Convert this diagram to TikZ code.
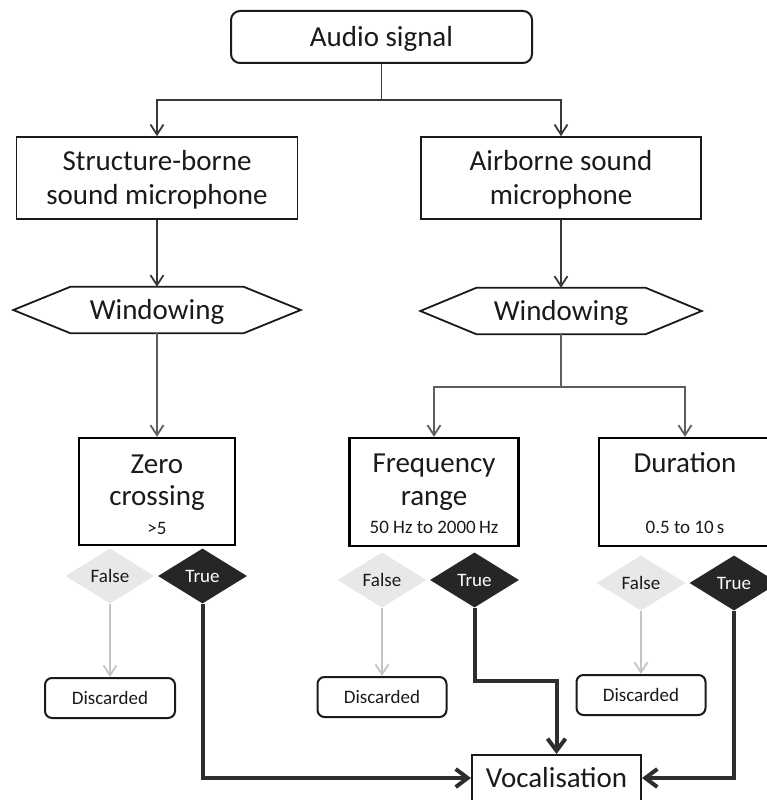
\documentclass[tikz,border=0pt]{standalone}
\usepackage{fontspec}
\setmainfont{Carlito}
\usetikzlibrary{arrows.meta,shapes.geometric}
\definecolor{ink}{HTML}{1A1A1A}
\definecolor{conA}{HTML}{383838}
\definecolor{conB}{HTML}{5E5E5E}
\definecolor{conF}{HTML}{C4C4C4}
\definecolor{conT}{HTML}{2E2E2E}
\definecolor{fillF}{HTML}{E8E8E8}
\definecolor{fillT}{HTML}{262626}
\begin{document}
\begin{tikzpicture}[x=1pt,y=-1pt,
  big/.style={font=\fontsize{29}{34}\selectfont},
  small/.style={font=\fontsize{19}{23}\selectfont},
  capb/.style={text height=18.6pt, text depth=0pt},
  caps/.style={text height=12.2pt, text depth=0pt},
  txt/.style={inner sep=0pt, anchor=base, text=ink},
  rbox/.style={draw=ink, line width=2pt, inner sep=0pt, text=ink},
  sbox/.style={draw=ink, line width=1.6pt, inner sep=0pt},
  cbox/.style={draw=black, line width=2.4pt, inner sep=0pt},
  hexnode/.style={inner sep=0pt, minimum height=46pt, text=ink},
  hexline/.style={draw=ink, line width=1.8pt, line join=miter},
  dia/.style={diamond, inner sep=0pt, minimum width=89pt, minimum height=55pt, small, caps},
  arr/.style={-{Straight Barb[length=10pt,width=13pt]}},
  tarr/.style={-{Straight Barb[length=12pt,width=18pt]}},
  conn1/.style={draw=conA, line width=1.8pt},
  conn2/.style={draw=conB, line width=1.8pt},
  connF/.style={draw=conF, line width=1.8pt},
  connT/.style={draw=conT, line width=4pt},
]
\useasboundingbox (0,0) rectangle (767,800);
\clip (0,0) rectangle (767,800);

% top
\node[rbox, rounded corners=9pt, big, capb, minimum width=301pt, minimum height=52pt] (audio) at (381.5,37) {Audio signal};

\node[sbox, minimum width=281pt, minimum height=82pt] (sb) at (157,178) {};
\node[txt, big] (sbt1) at (157,170) {Structure-borne};
\node[txt, big] (sbt2) at (157,204) {sound microphone};

\node[sbox, minimum width=280pt, minimum height=82pt] (ab) at (561,178) {};
\node[txt, big] (abt1) at (561,170) {Airborne sound};
\node[txt, big] (abt2) at (561,204) {microphone};

% windowing hexagons
\node[hexnode, big, capb, minimum width=287pt] (w1) at (157,310) {Windowing};
\draw[hexline] (w1.west) -- ([xshift=57pt]w1.north west) -- ([xshift=-57pt]w1.north east) -- (w1.east) -- ([xshift=-57pt]w1.south east) -- ([xshift=57pt]w1.south west) -- cycle;
\node[hexnode, big, capb, minimum width=281pt] (w2) at (561,311) {Windowing};
\draw[hexline] (w2.west) -- ([xshift=56pt]w2.north west) -- ([xshift=-56pt]w2.north east) -- (w2.east) -- ([xshift=-56pt]w2.south east) -- ([xshift=56pt]w2.south west) -- cycle;

% criteria boxes
\node[cbox, minimum width=156pt, minimum height=107pt] (zc) at (157,491.5) {};
\node[txt, big] (zct1) at (157,473) {Zero};
\node[txt, big] (zct2) at (157,505) {crossing};
\node[txt, small] (zct3) at (157,534) {>5};

\node[cbox, minimum width=169pt, minimum height=108pt] (fr) at (434,492) {};
\node[txt, big] (frt1) at (434,472) {Frequency};
\node[txt, big] (frt2) at (434,505) {range};
\node[txt, small] (frt3) at (434,533) {50 Hz to 2000\,Hz};

\node[cbox, minimum width=172pt, minimum height=108pt] (du) at (685,492) {};
\node[txt, big] (dut1) at (685,472) {Duration};
\node[txt, small] (dut2) at (685,533) {0.5 to 10\,s};

% decision diamonds
\node[dia, fill=fillF, text=ink] (f1) at (110,576) {False};
\node[dia, fill=fillT, text=white] (t1) at (202.5,576) {True};
\node[dia, fill=fillF, text=ink] (f2) at (382,580) {False};
\node[dia, fill=fillT, text=white] (t2) at (474.5,580) {True};
\node[dia, fill=fillF, text=ink] (f3) at (641,583) {False};
\node[dia, fill=fillT, text=white] (t3) at (734,583) {True};

% discarded
\node[rbox, rounded corners=7pt, small, caps, minimum width=130pt, minimum height=40pt] (d1) at (110,698) {Discarded};
\node[rbox, rounded corners=7pt, small, caps, minimum width=129pt, minimum height=40pt] (d2) at (382,697) {Discarded};
\node[rbox, rounded corners=7pt, small, caps, minimum width=129pt, minimum height=40pt] (d3) at (641,695) {Discarded};

% vocalisation
\node[draw=ink, line width=2pt, inner sep=0pt, text=ink, big, capb, minimum width=169pt, minimum height=46pt] (voc) at (556.5,778) {Vocalisation};

% connectors
\coordinate (j1) at (381.5,100);
\draw[conn1] (audio.south) -- (j1);
\draw[conn1, arr] (j1) -| (sb.north);
\draw[conn1, arr] (j1) -| (ab.north);
\draw[conn1, arr] (sb.south) -- (w1.north);
\draw[conn1, arr] (ab.south) -- (w2.north);

\draw[conn2, arr] (w1.south) -- (zc.north);
\coordinate (j2) at (561,387);
\draw[conn2] (w2.south) -- (j2);
\draw[conn2, arr] (j2) -| (fr.north);
\draw[conn2, arr] (j2) -| (du.north);

\draw[connF, arr] (f1.south) -- (d1.north);
\draw[connF, arr] (f2.south) -- (d2.north);
\draw[connF, arr] (f3.south) -- (d3.north);

\draw[connT, tarr] (t1.south) |- (voc.west);
\coordinate (k2) at (474.5,681);
\draw[connT, tarr] (t2.south) -- (k2) -| (voc.north);
\draw[connT, tarr] (t3.south) |- (voc.east);
\end{tikzpicture}
\end{document}
